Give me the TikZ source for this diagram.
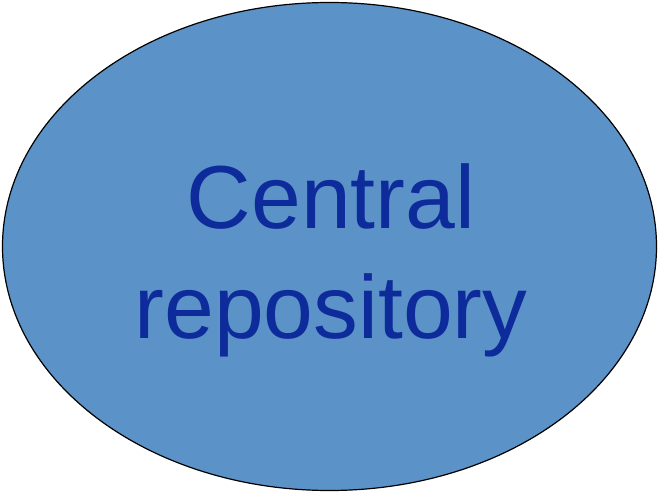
\documentclass[tikz,border=0pt]{standalone}
\usepackage{fontspec}
\setmainfont{Liberation Sans}
\usetikzlibrary{shapes.geometric}
\definecolor{fillblue}{HTML}{5B93C8}
\definecolor{textblue}{HTML}{0E2B9B}
\tikzset{repo/.style={ellipse, draw=black, line width=1.2pt, fill=fillblue, minimum width=654pt, minimum height=488pt, inner sep=0pt}}
\begin{document}
\begin{tikzpicture}[x=1pt,y=1pt]
\useasboundingbox (0,0) rectangle (659,493);
\node[repo] (repo) at (329.5,246.5) {};
\node[font=\fontsize{89.5}{110}\selectfont, text=textblue, align=center] (label) at (331,233) {Central\\repository};
\end{tikzpicture}
\end{document}
